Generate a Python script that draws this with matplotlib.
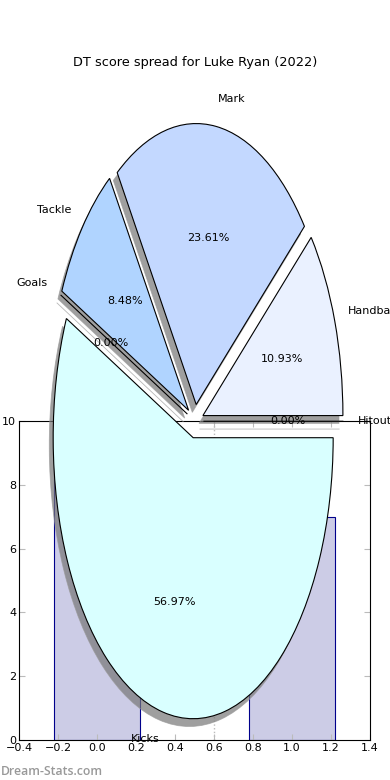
import matplotlib
matplotlib.use("Agg")
import matplotlib.pyplot as plt

# pie data (share of DT score, %)
labels = ["Hitout", "Handball", "Mark", "Tackle", "Goals", "Kicks"]
shares = [0.0, 10.932, 23.612, 8.484, 0.0, 56.972]
colors = ["#eef4ff", "#eaf1ff", "#c3d8ff", "#b0d4ff", "#c8e0ff", "#d9ffff"]

# bar data behind the pie
bar_x = [0, 1]
bar_h = [10, 7]
xticks = [-0.4, -0.2, 0.0, 0.2, 0.4, 0.6, 0.8, 1.0, 1.2, 1.4]
yticks = [0, 2, 4, 6, 8, 10]

W, H = 390, 780
fig = plt.figure(figsize=(3.9, 7.8), dpi=100)

axb = fig.add_axes([19 / W, 40 / H, 351 / W, 319 / H])
axb.bar(bar_x, bar_h, width=0.44, color="#ccccE6", edgecolor="#00008b", linewidth=0.8)
axb.axvline(0.6, color="#bbbbbb", ls=":", lw=1)
axb.set_xlim(-0.4, 1.4)
axb.set_ylim(0, 10)
axb.set_xticks(xticks)
axb.set_yticks(yticks)
axb.tick_params(direction="in", top=True, right=True, color="#bbbbbb",
                labelsize=8, length=4, pad=2)

axp = fig.add_axes([20 / W, 7.5 / H, 350 / W, 702.5 / H])
wedges, texts, autotexts = axp.pie(
    shares, labels=labels, colors=colors, explode=[0.06] * len(shares),
    shadow={"facecolor": "#777777", "edgecolor": "#999999", "linewidth": 0.6,
            "alpha": 0.7},
    autopct="%.2f%%", textprops={"fontsize": 8},
    wedgeprops={"edgecolor": "black", "linewidth": 0.8})
axp.set_aspect("auto")
axp.set_xlim(-1.25, 1.25)
axp.set_ylim(-1.25, 1.25)
axp.set_title("DT score spread for Luke Ryan (2022)", fontsize=9.3, pad=3)

fig.text(0.003, 0.003, "Dream-Stats.com", color="#999999", fontsize=8.8,
         family="Open Sans", fontweight="semibold", ha="left", va="bottom")

fig.savefig("out.png", dpi=100)
